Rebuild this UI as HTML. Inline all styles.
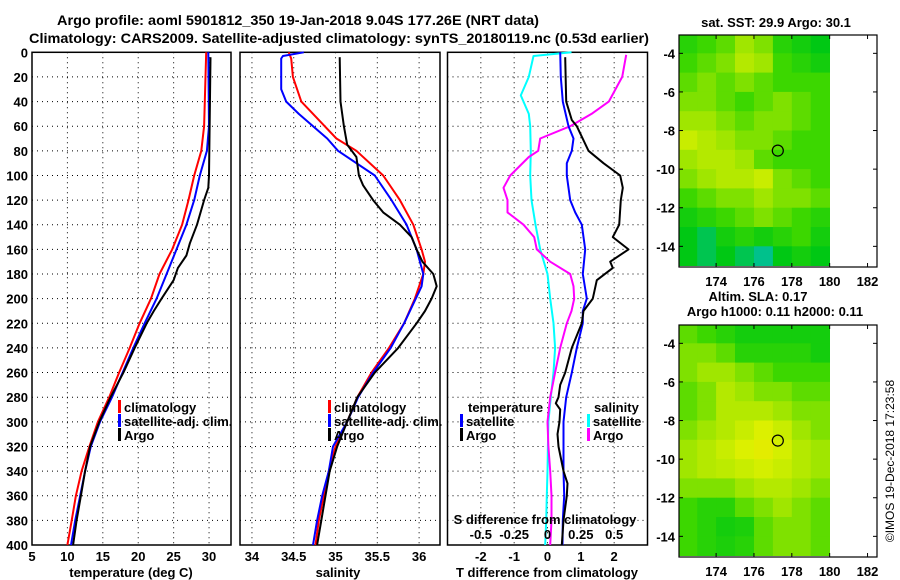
<!DOCTYPE html>
<html><head><meta charset="utf-8"><style>
body{margin:0;background:#fff;}
svg{display:block;font-family:"Liberation Sans",Arial,sans-serif;font-weight:bold;}
text{fill:#000;}
</style></head><body>
<svg id="chart" width="900" height="580" viewBox="0 0 900 580" xmlns="http://www.w3.org/2000/svg">
<text x="298" y="25" font-size="14" text-anchor="middle" textLength="482" lengthAdjust="spacingAndGlyphs">Argo profile: aoml 5901812_350 19-Jan-2018 9.04S 177.26E (NRT data)</text>
<text x="339" y="43" font-size="14" text-anchor="middle" textLength="620" lengthAdjust="spacingAndGlyphs">Climatology: CARS2009. Satellite-adjusted climatology: synTS_20180119.nc (0.53d earlier)</text>
<g id="p1"></g>
<g id="p2"></g>
<g id="p3"></g>
<g id="m1"></g>
<g id="m2"></g>
<text transform="translate(894,461) rotate(-90)" font-size="12" font-weight="normal" text-anchor="middle">©IMOS 19-Dec-2018 17:23:58</text>
</svg>
<script>
// ---- data ----
const depthTicks=[0,20,40,60,80,100,120,140,160,180,200,220,240,260,280,300,320,340,360,380,400];
const tempTicks=[5,10,15,20,25,30];
const salTicks=[34,34.5,35,35.5,36];
const tdiffTicks=[-2,-1,0,1,2];
const sdiffTicks=[-0.5,-0.25,0,0.25,0.5];
const climTD=[0,60,80,100,120,140,160,180,200,220,240,260,280,300,320,340,360,380,400];
const climT=[29.6,29.3,28.9,27.9,27.1,26.2,24.8,23.0,21.8,20.2,18.8,17.3,15.9,14.3,13.1,12.0,11.2,10.6,10.0];
const satTD=[0,60,80,100,120,140,160,180,200,220,240,260,280,300,320,340,360,380,400];
const satT=[29.9,30.0,29.7,28.7,27.9,26.8,25.4,24.0,22.6,20.9,19.3,17.8,16.3,14.6,13.3,12.5,11.8,11.1,10.5];
const argoTD=[4,100,110,120,140,155,165,175,185,200,210,220,240,260,280,300,320,340,360,380,400];
const argoT=[30.2,30.0,29.9,29.3,28.3,27.3,26.8,25.6,25.0,23.3,22.2,21.2,19.5,17.9,16.1,14.5,13.2,12.5,11.9,11.3,10.8];
const climSD=[0,5,20,40,60,70,80,100,120,140,160,170,180,200,220,240,260,280,300,320,340,360,380,400];
const climS=[34.44,34.47,34.49,34.59,34.87,35.01,35.25,35.57,35.77,35.93,36.03,36.07,36.05,35.95,35.82,35.64,35.43,35.26,35.14,35.0,34.92,34.86,34.8,34.76];
const satSD=[0,3,5,30,40,50,70,80,100,120,140,160,180,190,200,220,240,260,280,300,320,340,360,380,400];
const satS=[34.62,34.37,34.35,34.35,34.41,34.56,34.9,35.03,35.47,35.67,35.85,35.97,36.05,36.03,35.96,35.82,35.66,35.45,35.27,35.14,34.97,34.92,34.84,34.78,34.73];
const argoSD=[4,40,60,75,85,100,108,120,130,140,150,160,170,180,190,200,210,220,240,260,280,300,320,340,360,380,400];
const argoS=[35.05,35.06,35.1,35.14,35.25,35.28,35.33,35.45,35.57,35.77,35.91,35.97,36.04,36.17,36.21,36.15,36.07,35.97,35.75,35.47,35.26,35.14,35.02,34.93,34.88,34.83,34.78];
const dSatTD=[0,20,40,60,70,80,90,100,120,130,140,160,180,200,210,220,240,260,280,300,320,340,360,380,400];
const dSatT=[0.38,0.4,0.46,0.63,0.78,0.73,0.58,0.58,0.68,0.83,1.03,1.13,1.06,1.18,1.06,1.06,0.88,0.73,0.56,0.48,0.48,0.48,0.5,0.46,0.45];
const dArgoTD=[4,40,55,60,80,90,100,110,120,140,150,160,170,175,185,200,210,220,240,260,270,280,285,290,300,310,320,340,350,360,380,400];
const dArgoT=[0.53,0.56,0.73,0.88,1.23,1.68,2.18,2.26,2.2,2.15,1.96,2.43,1.88,1.96,1.48,1.36,1.08,1.03,0.73,0.53,0.38,0.33,0.25,0.38,0.36,0.3,0.33,0.48,0.6,0.58,0.48,0.43];
const dSatSD=[0,3,20,35,40,50,60,80,100,120,140,160,180,200,220,240,260,280,300,320,340,360,380,400];
const dSatS=[0.18,-0.105,-0.14,-0.2,-0.18,-0.14,-0.13,-0.125,-0.13,-0.12,-0.09,-0.055,0,0.02,0.045,0.057,0.045,0.025,0.007,0.003,0,-0.005,-0.01,-0.017];
const dArgoSD=[2,20,40,50,60,70,80,85,100,110,120,130,140,150,160,170,180,190,200,210,220,240,260,280,300,320,340,360,380,400];
const dArgoS=[0.59,0.56,0.46,0.33,0.17,-0.055,-0.07,-0.14,-0.28,-0.33,-0.3,-0.3,-0.18,-0.1,-0.08,0.02,0.17,0.195,0.2,0.18,0.145,0.095,0.057,0.02,0,0.007,0.02,0.03,0.03,0.02];
const mapLons=[172,173,174,175,176,177,178,179];
const mapLats=[-3,-4,-5,-6,-7,-8,-9,-10,-11,-12,-13,-14];
const sstGrid=[
[0.45,0.5,0.55,0.65,0.6,0.45,0.4,0.35],
[0.5,0.55,0.6,0.7,0.65,0.5,0.45,0.4],
[0.55,0.6,0.55,0.6,0.55,0.5,0.5,0.5],
[0.6,0.6,0.55,0.5,0.55,0.6,0.55,0.5],
[0.65,0.65,0.6,0.55,0.6,0.6,0.55,0.5],
[0.75,0.7,0.65,0.6,0.6,0.55,0.5,0.5],
[0.65,0.7,0.7,0.65,0.55,0.5,0.5,0.5],
[0.6,0.65,0.7,0.7,0.75,0.6,0.55,0.5],
[0.5,0.55,0.6,0.6,0.65,0.6,0.6,0.55],
[0.4,0.45,0.5,0.55,0.6,0.55,0.5,0.45],
[0.35,0.3,0.4,0.45,0.4,0.45,0.5,0.4],
[0.35,0.3,0.35,0.3,0.25,0.35,0.4,0.35]];
const slaGrid=[
[0.55,0.5,0.45,0.4,0.4,0.4,0.4,0.4],
[0.6,0.6,0.55,0.45,0.45,0.45,0.45,0.4],
[0.6,0.65,0.65,0.6,0.55,0.5,0.5,0.5],
[0.55,0.6,0.7,0.65,0.6,0.6,0.55,0.55],
[0.55,0.6,0.7,0.7,0.7,0.65,0.6,0.6],
[0.6,0.65,0.7,0.75,0.8,0.75,0.65,0.6],
[0.65,0.7,0.75,0.8,0.82,0.78,0.7,0.65],
[0.65,0.7,0.72,0.75,0.78,0.75,0.7,0.65],
[0.6,0.6,0.6,0.65,0.7,0.7,0.65,0.6],
[0.5,0.45,0.45,0.55,0.6,0.65,0.6,0.55],
[0.5,0.45,0.4,0.42,0.55,0.6,0.6,0.55],
[0.5,0.45,0.42,0.45,0.55,0.6,0.6,0.55]];
const lonTicks=[174,176,178,180,182];
const latTicks=[-4,-6,-8,-10,-12,-14];
const argoPos=[177.26,-9.04];

// ---- helpers ----
const NS="http://www.w3.org/2000/svg";
function mk(parent,tag,attrs){const e=document.createElementNS(NS,tag);for(const k in attrs)e.setAttribute(k,attrs[k]);parent.appendChild(e);return e;}
function txt(parent,x,y,s,size,anchor){const t=mk(parent,'text',{x:x,y:y,'font-size':size,'text-anchor':anchor||'middle'});t.textContent=s;return t;}
const Y0=52.3,Y1=545;
const yD=d=>Y0+(d/400)*(Y1-Y0);
function lin(d0,d1,r0,r1){return v=>r0+(v-d0)/(d1-d0)*(r1-r0);}

function panel(g,left,right,xs,xticks,fmt,showY){
  for(const d of depthTicks){ if(d>0&&d<400){const l=mk(g,'line',{x1:left,x2:right,y1:yD(d),y2:yD(d),stroke:'#000','stroke-width':1,'stroke-dasharray':'1,4'});
    
    }
    if(showY){const t=txt(g,28,yD(d)+5,String(d),13,'end');
    
    }}
  for(const v of xticks){const x=xs(v); if(x>left+1&&x<right-1){const l=mk(g,'line',{x1:x,x2:x,y1:Y0,y2:Y1,stroke:'#000','stroke-width':1,'stroke-dasharray':'1,4'});
    
    }
    if(fmt){const t=txt(g,x,561,fmt(v),13);
    
    }}
  const r=mk(g,'rect',{x:left,y:Y0,width:right-left,height:Y1-Y0,fill:'none',stroke:'#000','stroke-width':1.5});
  
  
}
function line(g,xs,vals,depths,color,w,name){
  const pts=vals.map((v,i)=>xs(v).toFixed(1)+','+yD(depths[i]).toFixed(1)).join(' ');
  const p=mk(g,'polyline',{points:pts,fill:'none',stroke:color,'stroke-width':w,'stroke-linejoin':'round'});
  
  
}
function legendItem(g,bx,y,color,label,name){
  const b=mk(g,'rect',{x:bx,y:y-7,width:3,height:13,fill:color});
  
  
  const t=txt(g,bx+6,y+5,label,13,'start');
  
  
}

// panel 1
const p1=document.getElementById('p1');
const xT=lin(5,33.1,32,231);
panel(p1,32,231,xT,tempTicks,v=>String(v),true);
line(p1,xT,climT,climTD,'#f00',2,'climatology-temp-line');
line(p1,xT,satT,satTD,'#00f',2,'satellite-temp-line');
line(p1,xT,argoT,argoTD,'#000',2,'argo-temp-line');
legendItem(p1,118,407,'#f00','climatology','legend-climatology');
legendItem(p1,118,421,'#00f','satellite-adj. clim.','legend-satellite');
legendItem(p1,118,435,'#000','Argo','legend-argo');
let t=txt(p1,131,577,'temperature (deg C)',13);



// panel 2
const p2=document.getElementById('p2');
const xS=lin(33.857,36.25,240,440);
panel(p2,240,440,xS,salTicks,v=>String(v),false);
line(p2,xS,climS,climSD,'#f00',2,'climatology-sal-line');
line(p2,xS,satS,satSD,'#00f',2,'satellite-sal-line');
line(p2,xS,argoS,argoSD,'#000',2,'argo-sal-line');
legendItem(p2,328,407,'#f00','climatology','legend-climatology');
legendItem(p2,328,421,'#00f','satellite-adj. clim.','legend-satellite');
legendItem(p2,328,435,'#000','Argo','legend-argo');
t=txt(p2,338,577,'salinity',13);



// panel 3
const p3=document.getElementById('p3');
const xDT=lin(-3,3,447.5,647.5);
const xDS=lin(-0.75,0.75,447.5,647.5);
panel(p3,447.5,647.5,xDT,tdiffTicks,v=>String(v),false);
line(p3,xDS,dSatS,dSatSD,'#0ff',2,'satellite-sdiff-line');
line(p3,xDS,dArgoS,dArgoSD,'#f0f',2,'argo-sdiff-line');
line(p3,xDT,dSatT,dSatTD,'#00f',2,'satellite-tdiff-line');
line(p3,xDT,dArgoT,dArgoTD,'#000',2,'argo-tdiff-line');
t=txt(p3,468,412,'temperature',13,'start');


t=txt(p3,594,412,'salinity',13,'start');


legendItem(p3,460,421,'#00f','satellite','legend-temp-satellite');
legendItem(p3,460,435,'#000','Argo','legend-temp-argo');
legendItem(p3,587,421,'#0ff','satellite','legend-sal-satellite');
legendItem(p3,587,435,'#f0f','Argo','legend-sal-argo');
t=txt(p3,545,524,'S difference from climatology',13);


for(const v of sdiffTicks){const tt=txt(p3,xDS(v),539,String(v),13);
  
  }
t=txt(p3,547,577,'T difference from climatology',13);



// maps
function cmap(v){
  const st=[[0,[0,80,255]],[0.2,[0,190,200]],[0.35,[0,200,20]],[0.5,[60,215,0]],[0.65,[160,230,0]],[0.8,[220,240,0]],[0.9,[255,220,0]],[1,[255,170,0]]];
  for(let i=1;i<st.length;i++){if(v<=st[i][0]){const a=st[i-1],b=st[i],f=(v-a[0])/(b[0]-a[0]);
    return 'rgb('+a[1].map((c,k)=>Math.round(c+(b[1][k]-c)*f)).join(',')+')';}}
  return 'rgb(255,170,0)';
}
function drawMap(g,top,grid,titles){
  const bot=top+232, L=679, R=877;
  const xL=lin(172.04,182.5,L,R), yL=lin(-3.05,-15.07,top,bot);
  for(let r=0;r<mapLats.length;r++)for(let c=0;c<mapLons.length;c++){
    const lon0=Math.max(mapLons[c],172.04), lon1=Math.min(mapLons[c]+1,180.1);
    const la0=Math.min(mapLats[r],-3.05), la1=Math.max(mapLats[r]-1,-15.07);
    const x0=xL(lon0),x1=xL(lon1),y0=yL(la0),y1=yL(la1);
    const cell=mk(g,'rect',{x:x0.toFixed(1),y:y0.toFixed(1),width:(x1-x0+0.4).toFixed(1),height:(y1-y0+0.4).toFixed(1),fill:cmap(grid[r][c])});
    
    
  }
  const fr=mk(g,'rect',{x:L,y:top,width:R-L,height:bot-top,fill:'none',stroke:'#000','stroke-width':1.2});
  
  
  for(const v of lonTicks){const x=xL(v);
    mk(g,'line',{x1:x,x2:x,y1:top,y2:top+4,stroke:'#000'});
    mk(g,'line',{x1:x,x2:x,y1:bot,y2:bot-4,stroke:'#000'});
    const tl=txt(g,x,bot+19,String(v),13);
    
    }
  for(const v of latTicks){const y=yL(v);
    mk(g,'line',{x1:L,x2:L+4,y1:y,y2:y,stroke:'#000'});
    mk(g,'line',{x1:R,x2:R-4,y1:y,y2:y,stroke:'#000'});
    const tl=txt(g,675,y+5,String(v),13,'end');
    
    }
  const c=mk(g,'circle',{cx:xL(argoPos[0]),cy:yL(argoPos[1]),r:5.5,fill:'none',stroke:'#000','stroke-width':1.2});
  
  
  titles.forEach((s,i)=>{const tt=txt(g,s[1],s[2],s[0],13);
    
    });
}
drawMap(document.getElementById('m1'),35,sstGrid,[['sat. SST: 29.9 Argo: 30.1',776,27]]);
drawMap(document.getElementById('m2'),325,slaGrid,[['Altim. SLA: 0.17',758,301],['Argo h1000: 0.11 h2000: 0.11',775,316]]);
</script>
</body></html>
